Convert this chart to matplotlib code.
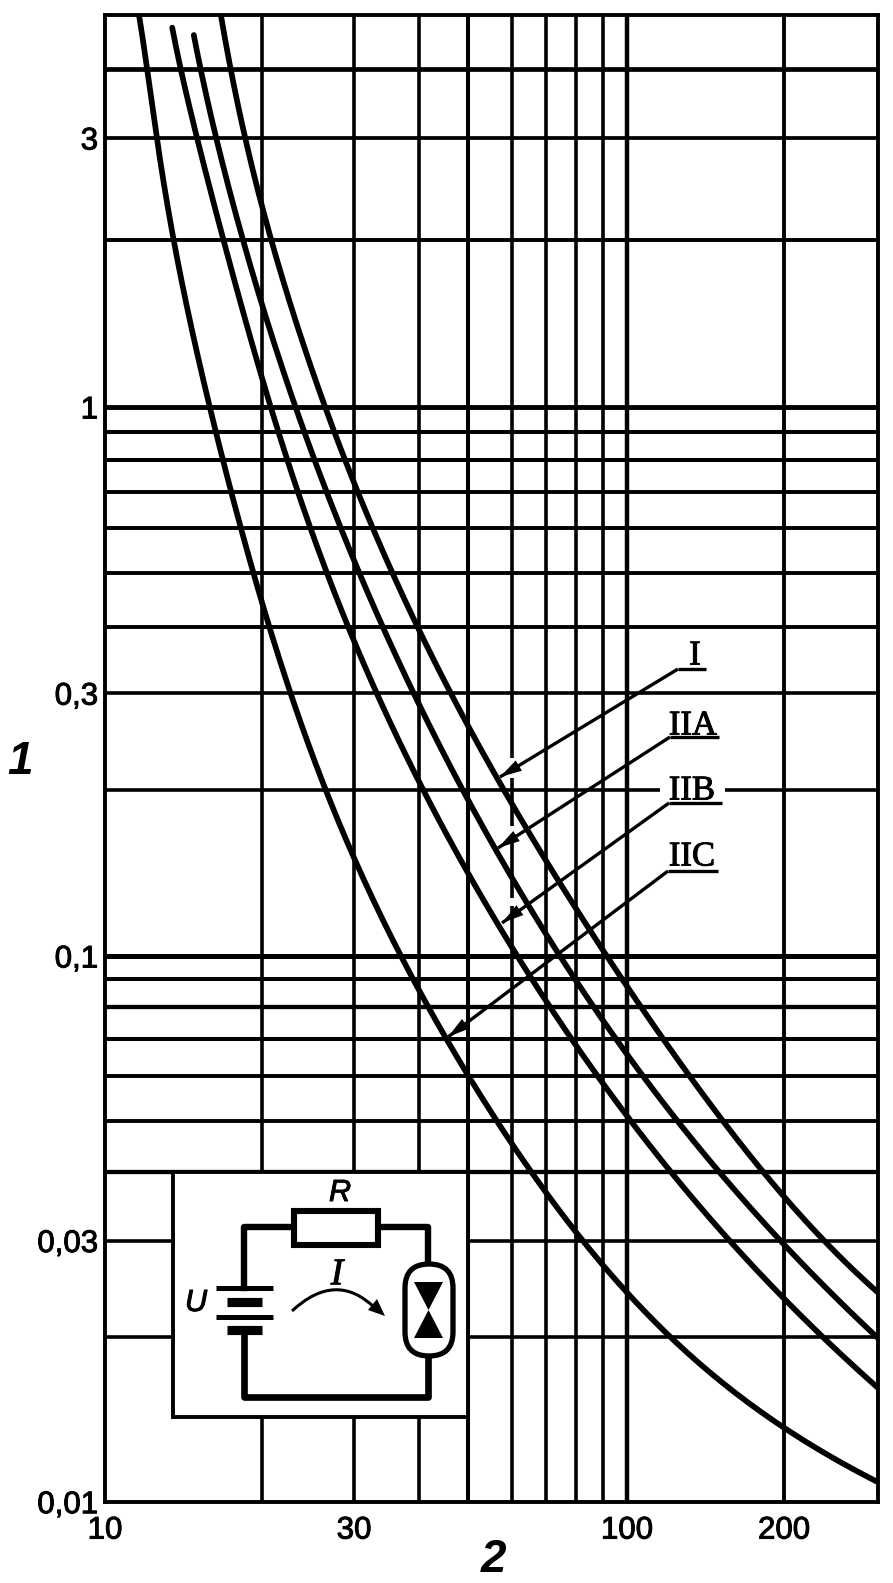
import matplotlib
matplotlib.use("Agg")
import numpy as np
import matplotlib.pyplot as plt
import matplotlib.patheffects as pe
from matplotlib.patches import Rectangle, FancyBboxPatch, Polygon, PathPatch
from matplotlib.path import Path

# ---------- data ----------
x_limits = [10, 302.6]
y_limits = [0.01, 5.2]

x_grid = [20, 30, 40, 49.7, 60.3, 70, 80, 90, 100, 200]
x_grid_lw = [2.6, 2.6, 2.6, 2.9, 2.6, 2.6, 2.6, 2.6, 3.2, 2.8]
y_grid = [4.15, 3.1, 2.02, 1, .9, .8, .7, .6, .497, .396, .3, .2, .0993, .09, .08, .07, .06, .0495, .04, .03, .02]
y_grid_lw = [3.4, 2.7, 2.8, 3.5, 2.9, 2.9, 2.8, 2.8, 2.8, 2.8, 2.6, 2.6, 3.6, 2.9, 3.1, 2.9, 2.8, 2.8, 3.1, 2.6, 2.6]

x_tick_vals = [10, 30, 100, 200]
x_tick_text = ["10", "30", "100", "200"]
y_tick_vals = [.01, .03, .0993, .3, 1, 3.1]
y_tick_text = ["0,01", "0,03", "0,1", "0,3", "1", "3"]

curve_I_x = [16.68, 17.36, 18.63, 20.71, 22.62, 24.38, 26.39, 27.58, 28.82, 30.4, 32.62, 35.62, 39.6, 46.4, 48.9,
             56.4, 59.7, 70.3, 80.2, 100, 117.2, 130.9, 152.7, 183.8, 202.6, 236.3, 288.3, 301]
curve_I_y = [5.2, 4.15, 3.1, 2.02, 1.57, 1.234, 1, .9, .8, .7, .6, .497, .396, .3, .2647,
             .2109, .189, .1469, .1205, .0887, .0697, .06, .0495, .04, .0356, .03, .0254, .02406]

curve_IIA_x = [14.75, 15.34, 16.25, 18.38, 19.72, 21.63, 23.12, 24.16, 25.04, 26.63, 28.45, 30.4, 33.94, 39.6, 48.5,
               51.8, 59.7, 68.1, 80.2, 88.8, 98.2, 105.9, 123.6, 150.7, 198.2, 231.2, 301]
curve_IIA_y = [4.78, 4.15, 3.1, 2.02, 1.602, 1.234, 1, .9, .8, .7, .6, .497, .396, .3, .2,
               .176, .1385, .1122, .0898, .0781, .0677, .0607, .0495, .04, .03, .0254, .02]

curve_IIB_x = [13.5, 13.86, 15.07, 16.83, 17.98, 19.55, 20.53, 21.45, 22.32, 23.43, 24.93, 26.63, 29.2, 33.2,
               40.66, 45.8, 49.4, 60.5, 65.8, 70.3, 80.2, 88.8, 105.9, 120.9, 156.2, 185.4, 237.4, 301]
curve_IIB_y = [4.93, 4.15, 3.1, 2.02, 1.636, 1.234, 1, .9, .8, .7, .6, .497, .396, .3,
               .2, .1618, .1426, .1006, .09, .08, .0689, .06, .0472, .04, .03, .0254, .02, .0162]

curve_IIC_x = [11.62, 12.03, 12.58, 13.5, 14.23, 15.21, 15.89, 16.25, 16.75, 17.51, 18.14, 19.2, 20.71, 22.81,
               26.39, 27.83, 29.87, 36.75, 39.26, 41.95, 45.2, 49.4, 56.4, 65.2, 80.2, 100, 122.5, 157.5, 200.9, 241.6, 301]
curve_IIC_y = [5.2, 4.15, 3.1, 2.02, 1.57, 1.234, 1, .9, .8, .7, .6, .497, .396, .3,
               .2, .176, .1506, .0993, .09, .08, .07, .06, .0495, .04, .0305, .0244, .02, .016, .01364, .01207, .01095]

curves = [(curve_I_x, curve_I_y), (curve_IIA_x, curve_IIA_y), (curve_IIB_x, curve_IIB_y), (curve_IIC_x, curve_IIC_y)]

# callout text, underline and arrow tip for each curve (figure pixels)
callouts = [
    ("I", 695, 656, 678, 706, 669, 500, 777),
    ("IIA", 693, 726, 670, 719, 737, 498, 848),
    ("IIB", 692, 791, 669, 722, 803, 502, 923),
    ("IIC", 692, 857, 668, 718, 871, 448, 1037),
]

# ---------- figure ----------
W, H = 893, 1583
fig = plt.figure(figsize=(W / 100, H / 100), dpi=100, facecolor="white")
ax = fig.add_axes([105 / W, 1 - 1501.7 / H, (878 - 105) / W, (1501.7 - 15) / H])
ax.set_xscale("log")
ax.set_yscale("log")
ax.set_xlim(*x_limits)
ax.set_ylim(*y_limits)
for s in ax.spines.values():
    s.set_linewidth(2.8)
    s.set_zorder(5)

heavy = [pe.withStroke(linewidth=0.7, foreground="black")]
sans = "Liberation Sans"
ax.set_xticks(x_tick_vals, x_tick_text, fontsize=22.5, family=sans)
ax.set_yticks(y_tick_vals, y_tick_text, fontsize=22.5, family=sans)
ax.xaxis.set_minor_locator(matplotlib.ticker.NullLocator())
ax.yaxis.set_minor_locator(matplotlib.ticker.NullLocator())
ax.tick_params(axis="x", length=0, pad=10)
ax.tick_params(axis="y", length=0, pad=5)
for t in ax.get_xticklabels() + ax.get_yticklabels():
    t.set_path_effects(heavy)

ax.vlines(x_grid, *y_limits, colors="black", linewidth=x_grid_lw, zorder=1)
ax.hlines(y_grid, *x_limits, colors="black", linewidth=y_grid_lw, zorder=1)

# the printed curves are smooth, so each is drawn as a smooth fit through its read values
for cx, cy in curves:
    lx, ly = np.log10(cx), np.log10(cy)
    coef = np.polyfit(ly, lx, 7)
    fine_y = np.linspace(ly[0], ly[-1] - 0.01, 300)
    ax.plot(10 ** np.polyval(coef, fine_y), 10 ** fine_y, color="black", linewidth=4.1,
            solid_capstyle="round", solid_joinstyle="round", zorder=3)

# ---------- overlay in figure pixels: labels, callouts, circuit ----------
ov = fig.add_axes([0, 0, 1, 1], facecolor="none")
ov.set_xlim(0, W)
ov.set_ylim(H, 0)
ov.axis("off")

ov.text(20, 762, "1", family=sans, fontsize=33, style="italic", fontweight="bold", ha="center", va="center")
ov.text(493, 1560, "2", family=sans, fontsize=33, style="italic", fontweight="bold", ha="center", va="center")


def seg(xs, ys, lw, cap="projecting", z=6, color="black"):
    ov.plot(xs, ys, color=color, linewidth=lw, solid_capstyle=cap, zorder=z)


# white breaks on the x=60 line beside the arrows and on the 0.2 line behind IIB
for rx, ry, rw, rh in [(506, 758, 14, 20), (506, 826, 14, 8), (506, 898, 14, 8), (660, 784, 65, 12)]:
    ov.add_patch(Rectangle((rx, ry), rw, rh, facecolor="white", edgecolor="none", zorder=2))

for text, tx, ty, ux0, ux1, uy, ax_, ay_ in callouts:
    ov.text(tx, ty, text, family="Liberation Serif", fontsize=25, ha="center", va="center", zorder=7,
            path_effects=heavy)
    seg([ux0, ux1], [uy, uy], 2.4, "butt")
    seg([ux0, ax_], [uy, ay_], 2.4, "butt")
    dx, dy = ux0 - ax_, uy - ay_
    n = (dx * dx + dy * dy) ** 0.5
    ux, uy2 = dx / n, dy / n
    bx, by = ax_ + ux * 22, ay_ + uy2 * 22
    ov.add_patch(Polygon([(ax_, ay_), (bx - uy2 * 6, by + ux * 6), (bx + uy2 * 6, by - ux * 6)],
                         closed=True, facecolor="black", edgecolor="none", zorder=7))

# circuit box
ov.add_patch(Rectangle((173, 1172), 295, 245, facecolor="white", edgecolor="black", linewidth=2.8, zorder=5))
seg([244, 244, 294], [1288, 1227, 1227], 4.6)
seg([378, 428, 428], [1227, 1227, 1264], 4.6)
seg([428, 428, 244, 244], [1356, 1397, 1397, 1330], 4.8)
ov.add_patch(Rectangle((294, 1211), 84, 34, facecolor="white", edgecolor="black", linewidth=4.4, zorder=6))
ov.add_patch(FancyBboxPatch((429, 1288), 0, 44, boxstyle="round,pad=24,rounding_size=24",
                            facecolor="white", edgecolor="black", linewidth=3.8, zorder=6))
seg([216, 273], [1288, 1288], 3.6, "butt")
seg([216, 273], [1317, 1317], 3.6, "butt")
seg([227, 262], [1302, 1302], 6.6, "butt")
seg([227, 262], [1330, 1330], 6.6, "butt")
ov.add_patch(Polygon([(414, 1282), (443, 1282), (428.5, 1310)], closed=True, facecolor="black", edgecolor="none", zorder=7))
ov.add_patch(Polygon([(414, 1338), (443, 1338), (428.5, 1310)], closed=True, facecolor="black", edgecolor="none", zorder=7))
arc = Path([(292, 1311), (336, 1270), (375, 1308)], [Path.MOVETO, Path.CURVE3, Path.CURVE3])
ov.add_patch(PathPatch(arc, facecolor="none", edgecolor="black", linewidth=2.2, zorder=7))
ov.add_patch(Polygon([(385, 1316), (377, 1299), (368, 1310)], closed=True, facecolor="black", edgecolor="none", zorder=7))

ov.text(340, 1193, "R", family=sans, style="italic", fontsize=22, ha="center", va="center", zorder=7, path_effects=heavy)
ov.text(196, 1303, "U", family=sans, style="italic", fontsize=22, ha="center", va="center", zorder=7, path_effects=heavy)
ov.text(337, 1275, "I", family="Liberation Serif", style="italic", fontsize=27, ha="center", va="center", zorder=7, path_effects=heavy)

fig.savefig("out.png", dpi=100, facecolor="white")
